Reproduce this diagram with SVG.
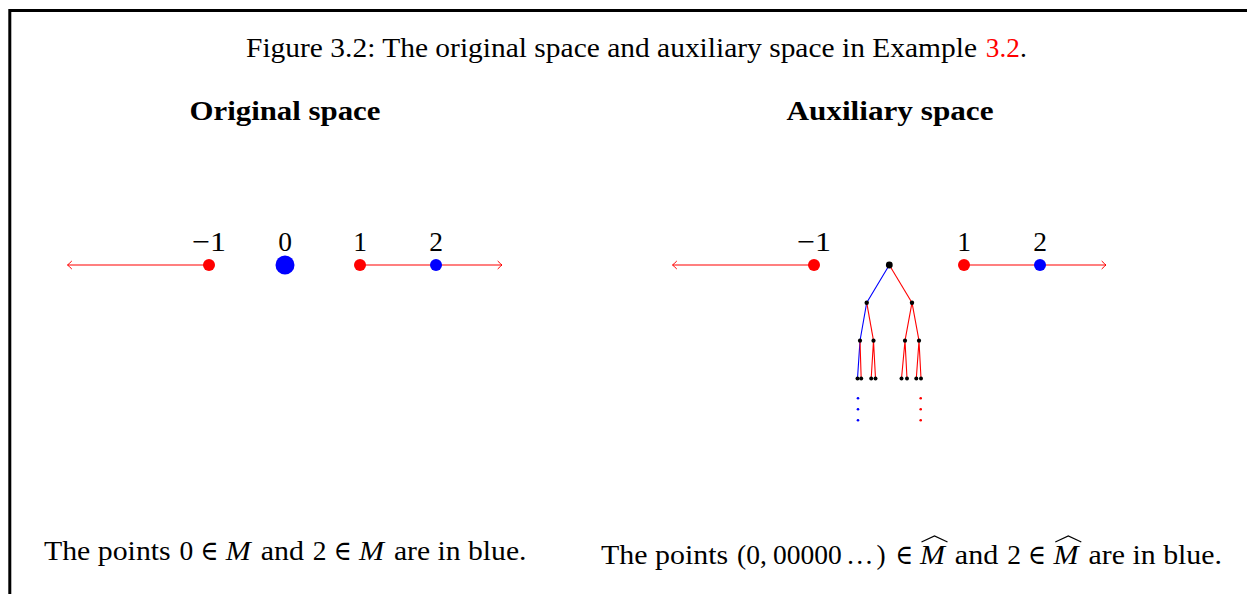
<svg xmlns="http://www.w3.org/2000/svg" width="1247" height="594" viewBox="0 0 1247 594">
<style>
text{font-family:"Liberation Serif","DejaVu Serif",serif;font-size:27.5px;fill:#000}
.b{font-weight:bold}
.i{font-style:italic}
.red{fill:#f00}
.ln{fill:none;stroke:#f00;stroke-width:1.2}
.eb{stroke:#00f;stroke-width:1.1;fill:none}
.er{stroke:#f00;stroke-width:1.1;fill:none}
.pr{fill:#f00}
.pb{fill:#00f}
.tn{fill:#000}
.hat{fill:none;stroke:#000;stroke-width:1.3}
</style>
<defs>
<marker id="to" viewBox="-6 -6 8 12" refX="0" refY="0" markerWidth="8" markerHeight="12" orient="auto" markerUnits="userSpaceOnUse">
<path d="M-4.3,-4 Q-1.3,-1 0,0 Q-1.3,1 -4.3,4" fill="none" stroke="#f00" stroke-width="1"/>
</marker>
</defs>
<rect width="1247" height="594" fill="#fff"/>
<path d="M9.8,594 V10.5 H1247" fill="none" stroke="#000" stroke-width="3"/>

<g id="title">
<text x="246" y="57" textLength="731" lengthAdjust="spacingAndGlyphs">Figure 3.2: The original space and auxiliary space in Example</text>
<text x="985.8" y="57" class="red" textLength="34" lengthAdjust="spacingAndGlyphs">3.2</text>
<text x="1020" y="57">.</text>
</g>

<g id="headers">
<text x="285" y="120" class="b" text-anchor="middle" textLength="191" lengthAdjust="spacingAndGlyphs">Original space</text>
<text x="890" y="120" class="b" text-anchor="middle" textLength="207" lengthAdjust="spacingAndGlyphs">Auxiliary space</text>
</g>

<g id="connectors">
<path class="ln" d="M209,265 H67.5" marker-end="url(#to)"/>
<path class="ln" d="M360,265 H502" marker-end="url(#to)"/>
<path class="ln" d="M814,265 H672.5" marker-end="url(#to)"/>
<path class="ln" d="M964,265 H1106" marker-end="url(#to)"/>
<path class="eb" d="M889.3,265 L866.7,302.7 L860,340.7 L857.5,378.5"/>
<path class="er" d="M889.3,265 L912,302.7"/>
<path class="er" d="M866.7,302.7 L873.5,340.7"/>
<path class="er" d="M860,340.7 L861.2,378.5"/>
<path class="er" d="M873.5,340.7 L871.2,378.5 M873.5,340.7 L875.5,378.5"/>
<path class="er" d="M912,302.7 L905,340.7 M912,302.7 L919,340.7"/>
<path class="er" d="M905,340.7 L901.5,378.5 M905,340.7 L907,378.5"/>
<path class="er" d="M919,340.7 L916.3,378.5 M919,340.7 L921,378.5"/>
</g>

<g id="original-points">
<g id="o-m1"><circle class="pr" cx="209" cy="265" r="6"/><text x="209" y="250.5" text-anchor="middle" textLength="34" lengthAdjust="spacingAndGlyphs">−1</text></g>
<g id="o-0"><circle class="pb" cx="285" cy="265" r="9.5"/><text x="285" y="250.5" text-anchor="middle">0</text></g>
<g id="o-1"><circle class="pr" cx="360" cy="265" r="6"/><text x="360" y="250.5" text-anchor="middle">1</text></g>
<g id="o-2"><circle class="pb" cx="436" cy="265" r="6"/><text x="436" y="250.5" text-anchor="middle">2</text></g>
</g>

<g id="aux-points">
<g id="a-m1"><circle class="pr" cx="814" cy="265" r="6"/><text x="814" y="250.5" text-anchor="middle" textLength="34" lengthAdjust="spacingAndGlyphs">−1</text></g>
<g id="a-1"><circle class="pr" cx="964" cy="265" r="6"/><text x="964" y="250.5" text-anchor="middle">1</text></g>
<g id="a-2"><circle class="pb" cx="1040" cy="265" r="6"/><text x="1040" y="250.5" text-anchor="middle">2</text></g>
</g>

<g id="tree">
<g id="t-root"><circle class="tn" cx="889.3" cy="265" r="3.4"/></g>
<g id="t-0"><circle class="tn" cx="866.7" cy="302.7" r="2.2"/></g>
<g id="t-1"><circle class="tn" cx="912" cy="302.7" r="2.2"/></g>
<g id="t-00"><circle class="tn" cx="860" cy="340.7" r="2.1"/></g>
<g id="t-01"><circle class="tn" cx="873.5" cy="340.7" r="2.1"/></g>
<g id="t-10"><circle class="tn" cx="905" cy="340.7" r="2.1"/></g>
<g id="t-11"><circle class="tn" cx="919" cy="340.7" r="2.1"/></g>
<g id="t-000"><circle class="tn" cx="857.5" cy="378.5" r="2"/></g>
<g id="t-001"><circle class="tn" cx="861.2" cy="378.5" r="2"/></g>
<g id="t-010"><circle class="tn" cx="871.2" cy="378.5" r="2"/></g>
<g id="t-011"><circle class="tn" cx="875.5" cy="378.5" r="2"/></g>
<g id="t-100"><circle class="tn" cx="901.5" cy="378.5" r="2"/></g>
<g id="t-101"><circle class="tn" cx="907" cy="378.5" r="2"/></g>
<g id="t-110"><circle class="tn" cx="916.3" cy="378.5" r="2"/></g>
<g id="t-111"><circle class="tn" cx="921" cy="378.5" r="2"/></g>
<g id="vdots-blue"><circle class="pb" cx="858" cy="398.3" r="1.3"/><circle class="pb" cx="858" cy="409.3" r="1.3"/><circle class="pb" cx="858" cy="420.3" r="1.3"/></g>
<g id="vdots-red"><circle class="pr" cx="920.7" cy="398.3" r="1.3"/><circle class="pr" cx="920.7" cy="409.3" r="1.3"/><circle class="pr" cx="920.7" cy="420.3" r="1.3"/></g>
</g>

<g id="caption-left">
<text x="44" y="560" textLength="126.7" lengthAdjust="spacingAndGlyphs">The points</text>
<text x="179.6" y="560">0</text>
<text x="200.4" y="560" textLength="17.9" lengthAdjust="spacingAndGlyphs">∈</text>
<text x="225.8" y="560" class="i" textLength="25" lengthAdjust="spacingAndGlyphs">M</text>
<text x="260.7" y="560" textLength="43.2" lengthAdjust="spacingAndGlyphs">and</text>
<text x="312.8" y="560">2</text>
<text x="333.7" y="560" textLength="17.9" lengthAdjust="spacingAndGlyphs">∈</text>
<text x="359" y="560" class="i" textLength="25" lengthAdjust="spacingAndGlyphs">M</text>
<text x="393.9" y="560" textLength="132.6" lengthAdjust="spacingAndGlyphs">are in blue.</text>
</g>

<g id="caption-right">
<text x="601" y="564" textLength="127.2" lengthAdjust="spacingAndGlyphs">The points</text>
<text x="737" y="564">(0,</text>
<text x="773" y="564">00000</text>
<text x="846" y="564">…</text>
<text x="876.5" y="564">)</text>
<text x="895.5" y="564" textLength="17.5" lengthAdjust="spacingAndGlyphs">∈</text>
<text x="920" y="564" class="i" textLength="25" lengthAdjust="spacingAndGlyphs">M</text>
<path class="hat" d="M921.5,542 L934.5,536 L947.5,542"/>
<text x="954.8" y="564" textLength="43.4" lengthAdjust="spacingAndGlyphs">and</text>
<text x="1007.2" y="564">2</text>
<text x="1028.1" y="564" textLength="17.9" lengthAdjust="spacingAndGlyphs">∈</text>
<text x="1053.5" y="564" class="i" textLength="25" lengthAdjust="spacingAndGlyphs">M</text>
<path class="hat" d="M1055.3,542 L1068.3,536 L1081.3,542"/>
<text x="1088.6" y="564" textLength="133.4" lengthAdjust="spacingAndGlyphs">are in blue.</text>
</g>
</svg>
